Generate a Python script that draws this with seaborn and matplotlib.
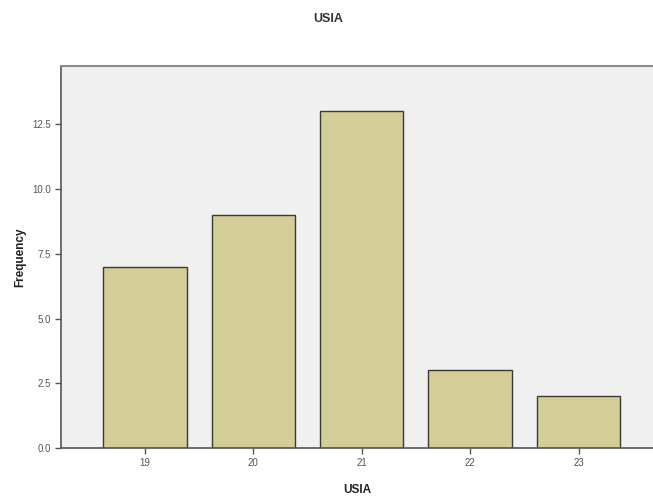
import pandas as pd
import numpy as np
import matplotlib.pyplot as plt
import seaborn as sns

# Data
ages = ['19', '20', '21', '22', '23']
counts = [7, 9, 13, 3, 2]
yticks = [0, 2.5, 5, 7.5, 10, 12.5]

df = pd.DataFrame({'USIA': ages, 'Frequency': counts})

plt.rcParams['font.family'] = ['Liberation Sans', 'DejaVu Sans']

fig = plt.figure(figsize=(6.53, 4.97), dpi=100)
ax = fig.add_axes([61 / 653, 49 / 497, 592 / 653, 382 / 497])
ax.set_facecolor('#F0F0F0')

sns.barplot(data=df, x='USIA', y='Frequency', order=ages, color='#D3CE97',
            saturation=1, width=0.77, edgecolor='#3A3A30', linewidth=1.0, ax=ax)

ax.set_xlim(-0.775, 4.687)
ax.set_ylim(0, 14.75)
ax.set_yticks(yticks)
ax.set_yticklabels([f'{v:.1f}' for v in yticks])

ax.spines['right'].set_visible(False)
ax.spines['top'].set_color('#8C8C8C')
ax.spines['top'].set_linewidth(1.5)
for side in ['left', 'bottom']:
    ax.spines[side].set_color('#555555')
    ax.spines[side].set_linewidth(1.2)

ax.tick_params(axis='both', labelsize=7, colors='#555555', length=4, width=1,
               labelcolor='#555555')

ax.set_xlabel('USIA', fontsize=8.5, fontweight='bold', color='#222222', labelpad=11)
ax.set_ylabel('Frequency', fontsize=8.5, fontweight='bold', color='#222222', labelpad=4)

fig.text(0.502, 0.962, 'USIA', ha='center', va='center', fontsize=9,
         fontweight='bold', color='#333333')

fig.savefig('out.png', dpi=100)
